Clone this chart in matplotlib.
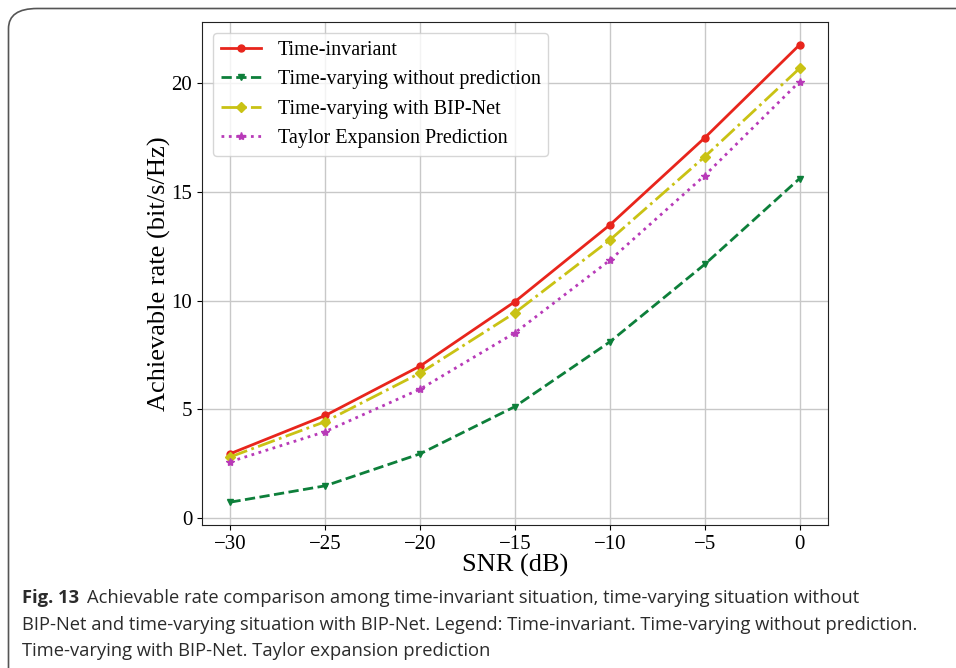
import numpy as np
import matplotlib.pyplot as plt
from matplotlib.patches import FancyBboxPatch

# data
snr = [-30, -25, -20, -15, -10, -5, 0]
rate_invariant = [2.97, 4.72, 6.99, 9.95, 13.47, 17.47, 21.74]
rate_no_pred = [0.74, 1.49, 2.96, 5.13, 8.10, 11.66, 15.60]
rate_bipnet = [2.82, 4.44, 6.67, 9.44, 12.78, 16.60, 20.66]
rate_taylor = [2.60, 3.98, 5.93, 8.52, 11.85, 15.74, 20.05]

series_labels = ['Time-invariant', 'Time-varying without prediction',
                 'Time-varying with BIP-Net', 'Taylor Expansion Prediction']
caption_lines = [
    'Achievable rate comparison among time-invariant situation, time-varying situation without',
    'BIP-Net and time-varying situation with BIP-Net. Legend: Time-invariant. Time-varying without prediction.',
    'Time-varying with BIP-Net. Taylor expansion prediction',
]

plt.rcParams['font.family'] = ['Liberation Serif', 'DejaVu Serif']

fig = plt.figure(figsize=(9.56, 6.68), dpi=100)
W, H = 956, 668

# rounded frame around the figure (right/bottom run off the page)
frame = FancyBboxPatch((8.5 / W, -0.1), 1.2, 1 - 8.5 / H + 0.1,
                       boxstyle='round,pad=0,rounding_size=0.03',
                       transform=fig.transFigure, fill=False,
                       edgecolor='#555555', linewidth=1.2)
fig.patches.append(frame)

ax = fig.add_axes([202 / W, 1 - 525 / H, (828 - 202) / W, (525 - 22) / H])

ax.plot(snr, rate_invariant, color='#e8251c', ls='-', lw=2, marker='o', ms=5,
        label=series_labels[0])
ax.plot(snr, rate_no_pred, color='#0d7f3a', ls='--', lw=2, marker='v', ms=5,
        label=series_labels[1])
ax.plot(snr, rate_bipnet, color='#c9c214', ls='-.', lw=2, marker='D', ms=5,
        label=series_labels[2])
ax.plot(snr, rate_taylor, color='#b83ab8', ls=':', lw=2, marker='*', ms=6,
        label=series_labels[3])

ax.set_xticks([-30, -25, -20, -15, -10, -5, 0])
ax.set_yticks([0, 5, 10, 15, 20])
ax.tick_params(labelsize=15)
ax.grid(True, color='#c8c8c8', lw=1)
ax.set_xlabel('SNR (dB)', fontsize=19, labelpad=0)
ax.set_ylabel('Achievable rate (bit/s/Hz)', fontsize=19, labelpad=0)
ax.legend(loc='upper left', fontsize=14.5, framealpha=0.8, handlelength=2.0,
          labelspacing=0.5, borderaxespad=0.55)
for s in ax.spines.values():
    s.set_color('#222222')

# caption
cap_font = ['Open Sans', 'DejaVu Sans']
cap_col = '#2b2b2b'
cap_size = 13.2
fig.text(22 / W, 1 - 598 / H, 'Fig. 13', fontsize=cap_size, fontweight='bold',
         family=cap_font, color=cap_col, va='center')
fig.text(87 / W, 1 - 598 / H, caption_lines[0], fontsize=cap_size,
         family=cap_font, color=cap_col, va='center')
fig.text(22 / W, 1 - 625 / H, caption_lines[1], fontsize=cap_size,
         family=cap_font, color=cap_col, va='center')
fig.text(22 / W, 1 - 651 / H, caption_lines[2], fontsize=cap_size,
         family=cap_font, color=cap_col, va='center')

fig.savefig('out.png', dpi=100)
